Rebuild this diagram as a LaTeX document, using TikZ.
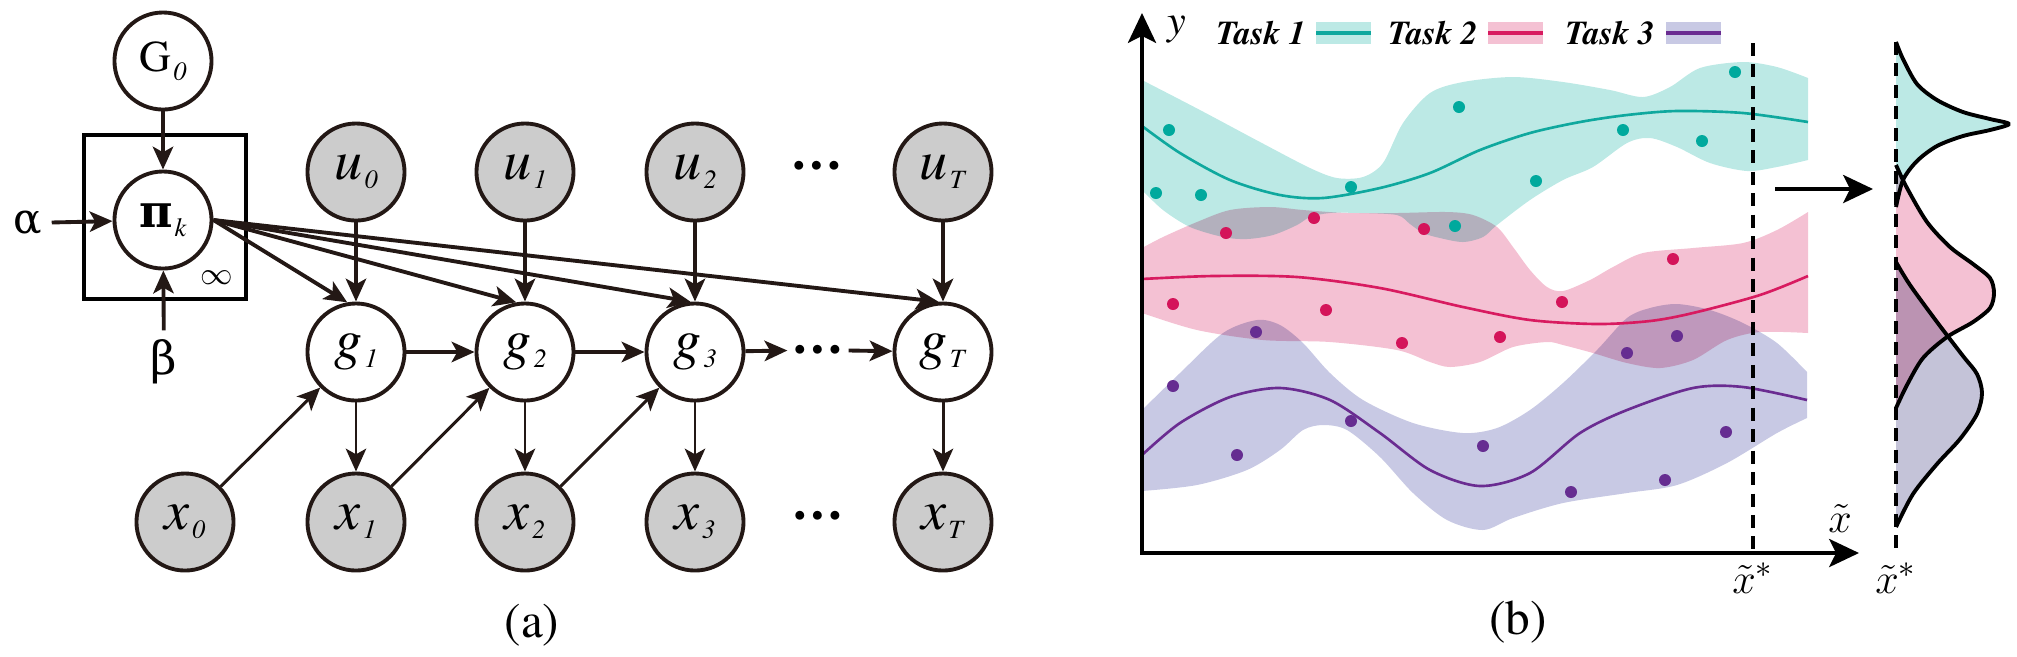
\documentclass[tikz,border=0pt]{standalone}
\usepackage{fontspec}
\IfFontExistsTF{TeX Gyre Termes}{\setmainfont{TeX Gyre Termes}}{\setmainfont{Liberation Serif}}
\newfontfamily\greekFont{DejaVu Serif}
\usepackage{tikz}
\usetikzlibrary{arrows.meta}
\definecolor{inkDark}{HTML}{231815}
\definecolor{nodeGrey}{HTML}{CCCCCC}
\definecolor{tealBand}{HTML}{BCE9E5}
\definecolor{tealLine}{HTML}{0FA89E}
\definecolor{tealDot}{HTML}{00A99D}
\definecolor{pinkBand}{HTML}{F4C1D3}
\definecolor{pinkLine}{HTML}{D81B60}
\definecolor{pinkDot}{HTML}{D4145A}
\definecolor{lilacBand}{HTML}{C8C9E4}
\definecolor{lilacLine}{HTML}{6A2C91}
\definecolor{lilacDot}{HTML}{662D91}
\definecolor{lilacPdf}{HTML}{C4C3D8}
\newcommand{\subLbl}[1]{\kern0.6pt\raisebox{-2.6pt}{\fontsize{7.5}{8}\selectfont\rmfamily\textit{#1}}}

\begin{document}
\begin{tikzpicture}[x=0.01cm, y=-0.01cm,
    varNode/.style={circle, draw=inkDark, line width=1.1pt, fill=white, minimum size=0.97cm, inner sep=0pt, font=\fontsize{16}{18}\selectfont},
    obsNode/.style={varNode, fill=nodeGrey},
    greekLbl/.style={inner sep=2.5pt, font=\fontsize{12}{14}\selectfont\greekFont},
    dotsLbl/.style={inner sep=1pt, font=\fontsize{15}{16}\selectfont\bfseries},
    edgeArrow/.style={-{Stealth[length=6.5pt, width=5.8pt, inset=1.6pt]}, line width=1.1pt, draw=inkDark},
    thinArrow/.style={edgeArrow, line width=0.85pt},
    axisArrow/.style={-{Stealth[length=8.5pt, width=8pt, inset=2pt]}, line width=1pt, black},
    guideLine/.style={line width=1.1pt, black, dash pattern=on 3.7pt off 2.4pt},
    bandFill/.style={blend mode=multiply},
    meanLine/.style={line width=0.75pt},
    pdfCurve/.style={line width=1.1pt, black, line join=round},
    legendLbl/.style={inner sep=0pt, font=\fontsize{9.5}{10}\selectfont\bfseries\itshape},
    capLbl/.style={inner sep=0pt, font=\fontsize{14}{16}\selectfont}
]
    \useasboundingbox (0,0) rectangle (2017,656);

    % (a) modello grafico
    \node[draw=black, line width=1.1pt, minimum width=1.62cm, minimum height=1.64cm] (plate) at (165, 217) {};
    \node[inner sep=0pt, font=\fontsize{9}{10}\selectfont] (inf) at (217, 278) {$\infty$};
    \node[varNode, font=\fontsize{12.5}{14}\selectfont] (G0) at (163, 61) {G\subLbl{0}};
    \node[varNode, font=\fontsize{13}{15}\selectfont\greekFont] (pi) at (163, 220) {\textbf{π}\subLbl{k}};
    \node[greekLbl] (alpha) at (28, 223) {α};
    \node[greekLbl, font=\fontsize{13}{15}\selectfont\greekFont] (beta) at (164, 362) {β};

    \node[obsNode] (u0) at (356, 172) {\textit{u}\subLbl{0}};
    \node[obsNode] (u1) at (525, 172) {\textit{u}\subLbl{1}};
    \node[obsNode] (u2) at (695, 172) {\textit{u}\subLbl{2}};
    \node[dotsLbl] (uDots) at (817, 166) {…};
    \node[obsNode] (uT) at (943, 172) {\textit{u}\subLbl{T}};

    \node[varNode] (g1) at (356, 352) {\textit{g}\subLbl{1}};
    \node[varNode] (g2) at (525, 352) {\textit{g}\subLbl{2}};
    \node[varNode] (g3) at (695, 352) {\textit{g}\subLbl{3}};
    \node[dotsLbl] (gDots) at (818, 350) {…};
    \node[varNode] (gT) at (943, 352) {\textit{g}\subLbl{T}};

    \node[obsNode] (x0) at (185, 522) {\textit{x}\subLbl{0}};
    \node[obsNode] (x1) at (356, 522) {\textit{x}\subLbl{1}};
    \node[obsNode] (x2) at (525, 522) {\textit{x}\subLbl{2}};
    \node[obsNode] (x3) at (695, 522) {\textit{x}\subLbl{3}};
    \node[dotsLbl] (xDots) at (818, 516) {…};
    \node[obsNode] (xT) at (943, 522) {\textit{x}\subLbl{T}};

    \node[capLbl] (capA) at (532, 625) {(a)};

    \draw[edgeArrow] (G0) -- (pi);
    \draw[edgeArrow] (alpha) -- (pi);
    \draw[edgeArrow] (beta) -- (pi);
    \draw[edgeArrow] (pi.east) -- (g1.100);
    \draw[edgeArrow] (pi.east) -- (g2.100);
    \draw[edgeArrow] (pi.east) -- (g3.95);
    \draw[edgeArrow] (pi.east) -- (gT.95);
    \draw[edgeArrow] (u0) -- (g1);
    \draw[edgeArrow] (u1) -- (g2);
    \draw[edgeArrow] (u2) -- (g3);
    \draw[edgeArrow] (uT) -- (gT);
    \draw[edgeArrow] (g1) -- (g2);
    \draw[edgeArrow] (g2) -- (g3);
    \draw[edgeArrow] (g3) -- (gDots);
    \draw[edgeArrow] (gDots) -- (gT);
    \draw[thinArrow] (g1) -- (x1);
    \draw[thinArrow] (g2) -- (x2);
    \draw[thinArrow] (g3) -- (x3);
    \draw[thinArrow] (gT) -- (xT);
    \draw[thinArrow] (x0) -- (g1);
    \draw[thinArrow] (x1) -- (g2);
    \draw[thinArrow] (x2) -- (g3);

    % (b) regressione multi-task
    \fill[tealBand, bandFill] plot[smooth] coordinates {(1142,80) (1200,110) (1260,142) (1310,168) (1337,178) (1363,177) (1383,163) (1403,123) (1430,93) (1463,82) (1513,77) (1563,82) (1610,90) (1643,97) (1670,87) (1700,68) (1743,62) (1777,67) (1808,78)}
        -- plot[smooth] coordinates {(1808,160) (1777,167) (1747,171) (1710,163) (1677,147) (1650,138) (1627,143) (1593,167) (1563,180) (1530,200) (1497,225) (1483,237) (1463,242) (1440,238) (1423,233) (1410,224) (1397,215) (1360,213) (1330,213) (1310,217) (1297,225) (1273,235) (1247,239) (1223,237) (1190,227) (1163,210) (1142,190)} -- cycle;
    \fill[pinkBand, bandFill] plot[smooth] coordinates {(1142,248) (1163,237) (1197,222) (1230,210) (1270,207) (1303,210) (1347,213) (1397,213) (1447,212) (1473,215) (1497,227) (1513,247) (1530,270) (1547,287) (1563,291) (1590,280) (1613,267) (1643,253) (1693,248) (1743,243) (1777,230) (1808,212)}
        -- plot[smooth] coordinates {(1808,333) (1760,332) (1727,340) (1693,360) (1660,368) (1627,363) (1593,353) (1563,345) (1547,342) (1513,347) (1480,362) (1450,367) (1430,362) (1397,350) (1330,342) (1263,340) (1197,330) (1142,313)} -- cycle;
    \fill[lilacBand, bandFill] plot[smooth] coordinates {(1142,410) (1180,373) (1223,333) (1257,320) (1280,325) (1303,343) (1330,373) (1363,400) (1413,423) (1463,433) (1497,428) (1530,410) (1563,383) (1597,350) (1627,318) (1650,308) (1677,304) (1710,310) (1743,323) (1777,343) (1807,372)}
        -- plot[smooth] coordinates {(1807,418) (1777,433) (1727,463) (1677,485) (1627,493) (1563,503) (1513,518) (1483,530) (1447,520) (1413,493) (1380,457) (1347,430) (1323,425) (1303,430) (1280,450) (1247,470) (1197,485) (1142,491)} -- cycle;

    \draw[meanLine, tealLine] plot[smooth] coordinates {(1142,126) (1180,153) (1230,180) (1280,195) (1323,198) (1380,188) (1430,173) (1480,150) (1530,133) (1580,122) (1627,115) (1677,111) (1743,113) (1808,122)};
    \draw[meanLine, pinkLine] plot[smooth] coordinates {(1142,279) (1213,276) (1297,277) (1380,288) (1463,307) (1530,320) (1597,324) (1650,321) (1693,313) (1760,295) (1808,276)};
    \draw[meanLine, lilacLine] plot[smooth] coordinates {(1142,455) (1180,423) (1230,397) (1280,388) (1330,400) (1380,433) (1430,470) (1480,486) (1530,473) (1580,433) (1627,410) (1693,388) (1743,387) (1807,400)};

    \foreach \p in {(1169,130), (1156,193), (1201,195), (1351,187), (1459,107), (1536,181), (1623,130), (1455,226), (1735,72), (1702,141)}
        \fill[tealDot] \p circle (0.06cm);
    \foreach \p in {(1226,233), (1314,218), (1424,229), (1173,304), (1326,310), (1562,302), (1402,343), (1500,337), (1673,259)}
        \fill[pinkDot] \p circle (0.06cm);
    \foreach \p in {(1256,332), (1173,386), (1237,455), (1351,421), (1483,446), (1571,492), (1627,353), (1677,336), (1726,432), (1665,480)}
        \fill[lilacDot] \p circle (0.06cm);

    % legenda
    \node[legendLbl] (task1) at (1261, 33) {Task 1};
    \node[legendLbl] (task2) at (1433, 33) {Task 2};
    \node[legendLbl] (task3) at (1610, 33) {Task 3};
    \fill[tealBand] (1316,22) rectangle (1371,44);
    \draw[tealLine, line width=0.9pt] (1316,33) -- (1371,33);
    \fill[pinkBand] (1488,22) rectangle (1543,44);
    \draw[pinkLine, line width=0.9pt] (1488,33) -- (1543,33);
    \fill[lilacBand] (1666,22) rectangle (1721,44);
    \draw[lilacLine, line width=0.9pt] (1666,33) -- (1721,33);

    % densita predittive
    \fill[tealBand, bandFill] plot[smooth] coordinates {(1896,42) (1903,59) (1917,84) (1937,100) (1963,112) (1990,119) (2009,124) (1990,130) (1963,136) (1937,146) (1917,161) (1903,180) (1896,207)} -- cycle;
    \fill[pinkBand, bandFill] plot[smooth] coordinates {(1896,165) (1907,188) (1927,222) (1950,247) (1973,264) (1990,278) (1994,293) (1990,308) (1973,322) (1947,337) (1923,358) (1907,385) (1896,408)} -- cycle;
    \fill[lilacPdf, bandFill] plot[smooth] coordinates {(1896,262) (1910,285) (1937,322) (1963,356) (1977,374) (1982,393) (1977,414) (1960,439) (1937,464) (1913,494) (1896,527)} -- cycle;
    \draw[pdfCurve] plot[smooth] coordinates {(1896,42) (1903,59) (1917,84) (1937,100) (1963,112) (1990,119) (2009,124) (1990,130) (1963,136) (1937,146) (1917,161) (1903,180) (1896,207)};
    \draw[pdfCurve] plot[smooth] coordinates {(1896,165) (1907,188) (1927,222) (1950,247) (1973,264) (1990,278) (1994,293) (1990,308) (1973,322) (1947,337) (1923,358) (1907,385) (1896,408)};
    \draw[pdfCurve] plot[smooth] coordinates {(1896,262) (1910,285) (1937,322) (1963,356) (1977,374) (1982,393) (1977,414) (1960,439) (1937,464) (1913,494) (1896,527)};

    % assi e guide
    \coordinate (origin) at (1142, 553);
    \coordinate (yTip) at (1142, 13);
    \coordinate (xTip) at (1859, 553);
    \draw[axisArrow] (origin) -- (yTip);
    \draw[axisArrow] ([xshift=-0.5pt]origin) -- (xTip);
    \node[inner sep=0pt, font=\fontsize{12}{13}\selectfont\itshape] (yLbl) at (1177, 30) {y};
    \node[inner sep=0pt, font=\fontsize{13}{15}\selectfont] (xLbl) at (1840, 518) {$\tilde{x}$};

    \coordinate (guideTop) at (1753, 43);
    \coordinate (guideBot) at (1753, 553);
    \coordinate (pdfTop) at (1896, 42);
    \coordinate (pdfBot) at (1896, 555);
    \draw[guideLine] (guideTop) -- (guideBot);
    \draw[guideLine] (pdfTop) -- (pdfBot);
    \node[inner sep=0pt, font=\fontsize{13}{15}\selectfont] (xStar) at (1753, 578) {$\tilde{x}^{*}$};
    \node[inner sep=0pt, font=\fontsize{13}{15}\selectfont] (xStarPdf) at (1896, 578) {$\tilde{x}^{*}$};

    \coordinate (mapFrom) at (1775, 189);
    \coordinate (mapTo) at (1873, 189);
    \draw[axisArrow] (mapFrom) -- (mapTo);

    \node[capLbl] (capB) at (1518, 622) {(b)};
\end{tikzpicture}
\end{document}
